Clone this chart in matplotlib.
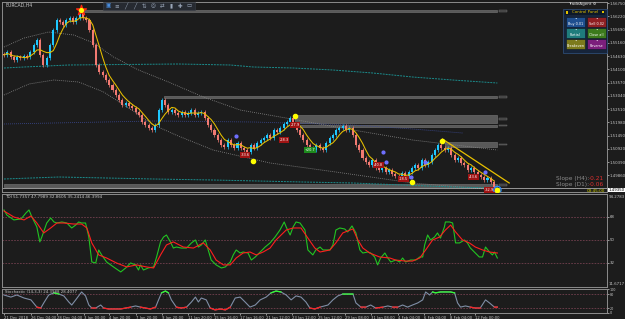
import numpy as np
import pandas as pd
import matplotlib.pyplot as plt
from matplotlib.patches import Rectangle

plt.rcParams.update({
    "font.family": "DejaVu Sans",
    "font.size": 4,
    "figure.facecolor": "#1c1c1c",
    "axes.facecolor": "#1c1c1c",
})

BG = "#1c1c1c"
EDGE = "#8c8c8c"
TXT = "#c8c8c8"
BULL = "#1ec8ff"
BEAR = "#f27a72"
MA_COL = "#e8c000"

# ---------- data ----------
closes = [
    1.5467, 1.5479, 1.5459, 1.5447, 1.5459, 1.5455, 1.5463, 1.5459, 1.5479, 1.5507,
    1.5527, 1.5467, 1.5427, 1.5455, 1.5507, 1.5567, 1.5607, 1.5599, 1.5587, 1.5607,
    1.5615, 1.5599, 1.5615, 1.5639, 1.5615, 1.5607, 1.5567, 1.5507, 1.5427, 1.5399,
    1.5387, 1.5367, 1.5347, 1.5327, 1.5307, 1.5287, 1.5267, 1.5275, 1.5263, 1.5255,
    1.5239, 1.5227, 1.5199, 1.5187, 1.5175, 1.5167, 1.5187, 1.5247, 1.5287, 1.5267,
    1.5239, 1.5247, 1.5235, 1.5227, 1.5239, 1.5227, 1.5235, 1.5247, 1.5227, 1.5235,
    1.5239, 1.5215, 1.5187, 1.5167, 1.5147, 1.5127, 1.5107, 1.5099, 1.5127, 1.5107,
    1.5095, 1.5115, 1.5095, 1.5087, 1.5079, 1.5107, 1.5095, 1.5115, 1.5127, 1.5135,
    1.5147, 1.5135, 1.5167, 1.5159, 1.5175, 1.5191, 1.5199, 1.5215, 1.5187, 1.5167,
    1.5147, 1.5127, 1.5107, 1.5095, 1.5087, 1.5107, 1.5095, 1.5087, 1.5115, 1.5135,
    1.5147, 1.5167, 1.5175, 1.5183, 1.5167, 1.5175, 1.5147, 1.5107, 1.5087, 1.5055,
    1.5039, 1.5027, 1.5047, 1.5015, 1.5007, 1.5015, 1.4999, 1.5007, 1.4991, 1.4983,
    1.4975, 1.4995, 1.4983, 1.4999, 1.5015, 1.5027, 1.5015, 1.5047, 1.5027, 1.5039,
    1.5067, 1.5087, 1.5107, 1.5095, 1.5087, 1.5095, 1.5067, 1.5047, 1.5055, 1.5035,
    1.5027, 1.5007, 1.5015, 1.4999, 1.4987, 1.4979, 1.4967, 1.4975, 1.4959, 1.4935,
]

price_ticks = [1.56750, 1.56220, 1.55690, 1.55160, 1.54630, 1.54100, 1.53570,
               1.53040, 1.52510, 1.51980, 1.51450, 1.50920, 1.50390, 1.49860]

# channel / envelope lines (bar, price)
upper_x = [0, 6.1, 13.6, 21.2, 27.3, 33.3, 40.9, 50, 60.6, 71.8, 90.9, 106.1, 124.2, 150]
upper_y = [1.5499, 1.5535, 1.5559, 1.5547, 1.5515, 1.5459, 1.5407, 1.5359, 1.5299,
           1.5247, 1.5203, 1.5167, 1.5127, 1.5087]
lower_x = [0, 7.6, 15.2, 22.7, 30.3, 37.9, 45.5, 53, 63.6, 80.9, 100.9, 124.2, 150]
lower_y = [1.5307, 1.5351, 1.5367, 1.5359, 1.5319, 1.5255, 1.5187, 1.5143, 1.5087,
           1.5035, 1.4999, 1.4955, 1.4927]
teal_hi_x = [0, 6.1, 19.7, 53, 68.8, 75.8, 87.9, 100, 112.1, 124.2, 136.4, 150]
teal_hi_y = [1.5415, 1.5419, 1.5427, 1.5431, 1.5427, 1.5419, 1.5415, 1.5407, 1.5395,
             1.5379, 1.5367, 1.5355]
teal_lo_x = [0, 16.7, 45.5, 63.6, 90.9, 106.1, 121.2, 136.4, 150]
teal_lo_y = [1.4971, 1.4979, 1.4971, 1.4967, 1.4959, 1.4955, 1.4947, 1.4939, 1.4935]
navy_x = [0, 45.5, 75.8, 106.1, 124.2, 139.4]
navy_y = [1.5191, 1.5203, 1.5199, 1.5187, 1.5171, 1.5155]

# supply / demand zones: (start bar, low, high)
zones = [(24.2, 1.5638, 1.5648), (48.5, 1.5296, 1.5304), (88.5, 1.5197, 1.5227),
         (88.5, 1.5181, 1.5188), (134.2, 1.5101, 1.5119), (0.0, 1.4940, 1.4952)]

swing_x = [75.8, 88.5, 124.0, 133.3, 150.0]
swing_y = [1.5043, 1.5223, 1.4959, 1.5123, 1.4927]
peak_x, peak_y = 23.3, 1.5647
fractal_x = [70.6, 115.2, 116.1, 123.6, 127.9, 146.1]
fractal_y = [1.5143, 1.5079, 1.5039, 1.4979, 1.5039, 1.4999]

tag_x = [73.3, 85.2, 88.5, 93.0, 113.9, 121.5, 142.7, 147.6]
tag_y = [1.5067, 1.5127, 1.5187, 1.5087, 1.5027, 1.4971, 1.4979, 1.4927]
tag_text = ["-33.6", "-28.3", "-27.9", "+20.7", "-40.8", "-18.5", "-43.6", "-32.9"]
tag_col = ["#a01414", "#a01414", "#a01414", "#1d8a1d", "#a01414", "#a01414", "#a01414", "#a01414"]

trend_x = [133.3, 153.6]
trend_y = [1.5131, 1.4955]

# TDI pane
tdi_x = [0, 0.9, 3.0, 5.2, 6.7, 7.6, 8.5, 10.0, 10.9, 11.5, 13.0, 14.2, 15.2, 16.1, 17.6,
         19.1, 20.6, 21.8, 22.7, 23.6, 24.8, 25.8, 26.7, 27.9, 28.8, 29.7, 31.2, 33.3,
         35.5, 37.0, 38.5, 40.0, 40.9, 41.5, 42.4, 43.9, 45.5, 46.4, 47.6, 48.5, 49.4,
         50.6, 51.5, 52.4, 53.9, 55.5, 57.0, 58.2, 59.1, 60.0, 61.2, 62.1, 63.0, 64.5,
         66.1, 67.3, 68.8, 69.7, 70.6, 71.8, 72.7, 74.2, 75.2, 76.4, 77.9, 79.4, 80.9,
         82.4, 83.9, 85.2, 85.8, 87.0, 87.9, 88.8, 90.0, 91.5, 92.4, 93.9, 94.8, 96.1,
         97.0, 99.1, 100.0, 100.9, 102.1, 103.6, 104.5, 105.8, 107.0, 108.2, 109.1,
         110.6, 111.5, 112.7, 113.6, 114.5, 115.8, 116.7, 117.6, 119.1, 120.3, 121.2,
         122.1, 123.6, 125.2, 126.4, 127.3, 127.9, 128.8, 129.7, 130.9, 131.8, 132.7,
         133.9, 134.2, 135.5, 136.4, 137.3, 138.5, 140.0, 140.9, 141.8, 143.3, 144.5,
         145.5, 146.4, 147.6, 148.5, 149.1, 150.0]
tdi_rsi = [73.5, 69.5, 65.7, 66.5, 71.2, 73.5, 68.0, 60.2, 48.5, 52.3, 63.3, 67.2, 64.1,
           63.3, 64.1, 63.3, 59.4, 61.7, 64.1, 63.3, 63.3, 52.3, 32.8, 32.0, 42.2, 38.3,
           32.8, 28.9, 25.0, 28.1, 32.0, 30.5, 26.5, 30.5, 26.5, 28.1, 28.9, 36.7, 48.5,
           52.3, 53.9, 48.5, 43.7, 44.5, 43.7, 43.7, 47.7, 50.0, 44.5, 46.1, 50.0, 42.2,
           34.3, 30.5, 28.1, 28.9, 32.8, 38.3, 42.2, 39.8, 40.6, 39.8, 34.3, 36.7, 40.6,
           44.5, 47.7, 52.3, 57.8, 64.1, 60.2, 53.9, 60.2, 64.1, 63.3, 57.8, 42.2, 38.3,
           42.2, 44.5, 42.2, 42.2, 46.1, 57.8, 59.4, 58.6, 56.3, 61.0, 55.5, 42.2, 39.8,
           40.6, 39.8, 36.7, 30.5, 35.9, 39.8, 35.9, 32.8, 34.3, 32.8, 35.9, 32.8, 34.3,
           34.3, 36.7, 36.7, 46.1, 53.9, 50.0, 52.3, 55.5, 51.5, 60.2, 64.1, 64.1, 63.3,
           47.7, 47.7, 50.0, 47.7, 43.7, 39.8, 36.7, 36.7, 44.5, 40.6, 38.3, 40.6, 35.9]
sig_x = [0, 3.0, 6.1, 8.2, 10.0, 12.1, 14.2, 16.1, 18.2, 21.2, 23.6, 25.2, 26.7, 28.8,
         31.2, 34.2, 37.3, 40.3, 43.3, 45.5, 47.6, 49.4, 51.5, 54.5, 57.6, 60.6, 62.7,
         64.5, 66.7, 68.8, 70.6, 72.7, 74.8, 76.7, 78.8, 80.9, 82.7, 85.8, 87.9, 90.3,
         92.4, 94.5, 96.1, 99.1, 100.9, 103.0, 105.2, 106.1, 107.6, 109.1, 111.2, 114.2,
         117.3, 119.1, 122.1, 124.2, 126.4, 128.2, 130.3, 132.4, 134.2, 135.8, 137.3,
         139.4, 141.5, 143.3, 145.5, 147.6, 150.0]
tdi_sig = [72.7, 68.0, 65.7, 68.8, 63.3, 55.5, 59.4, 63.3, 63.3, 62.5, 62.5, 59.4, 47.7,
           38.3, 35.9, 32.0, 28.9, 30.5, 28.9, 28.1, 38.3, 46.1, 48.5, 44.5, 43.7, 47.7,
           42.2, 34.3, 30.5, 30.5, 35.9, 39.8, 40.6, 38.3, 40.6, 43.7, 50.0, 57.8, 59.4,
           59.4, 51.5, 43.7, 40.6, 42.2, 47.7, 55.5, 57.8, 58.6, 50.0, 43.7, 39.8, 36.7,
           35.9, 34.3, 33.5, 33.5, 35.9, 42.2, 50.0, 52.3, 57.8, 61.7, 56.3, 50.0, 47.7,
           44.5, 42.2, 40.6, 39.8]
tdi_levels = [68, 50, 32]

# Stochastic pane
sto_x = [0, 2.1, 3.9, 6.1, 8.2, 10.0, 11.2, 12.1, 13.6, 15.2, 16.7, 18.2, 19.7, 20.6,
         21.8, 22.7, 23.6, 24.8, 25.8, 26.7, 27.9, 29.4, 30.3, 31.8, 33.3, 35.5, 37.0,
         38.5, 40.0, 41.5, 43.0, 44.5, 46.1, 47.0, 47.9, 49.1, 50.0, 50.9, 52.4, 53.9,
         55.5, 57.0, 58.2, 59.1, 60.0, 61.5, 62.7, 64.2, 65.8, 67.3, 68.8, 70.3, 71.8,
         73.3, 74.8, 76.4, 77.9, 79.7, 81.2, 82.7, 84.2, 85.8, 87.3, 88.8, 90.3, 91.8,
         93.0, 94.5, 96.1, 98.5, 100.0, 101.5, 103.0, 104.5, 106.1, 107.0, 108.5, 110.0,
         111.5, 113.0, 115.2, 116.7, 118.2, 119.7, 121.2, 122.7, 124.2, 125.8, 127.3,
         128.2, 129.4, 130.3, 131.2, 132.7, 134.2, 135.8, 137.0, 137.9, 138.8, 140.3,
         141.8, 143.3, 144.8, 146.4, 147.6, 149.1, 150.0]
sto_k = [76, 67, 76, 63, 55, 24, 20, 42, 76, 85, 80, 72, 46, 33, 55, 72, 89, 72, 33, 20,
         20, 33, 20, 16, 16, 16, 20, 24, 29, 24, 20, 16, 24, 55, 85, 93, 85, 55, 24, 20,
         24, 46, 67, 46, 63, 55, 20, 12, 16, 12, 24, 63, 67, 46, 24, 33, 55, 67, 85, 93,
         89, 76, 55, 72, 67, 46, 20, 16, 24, 33, 55, 72, 80, 80, 80, 42, 24, 24, 33, 20,
         24, 29, 24, 24, 33, 24, 33, 42, 55, 89, 76, 89, 85, 89, 89, 89, 85, 42, 24, 29,
         24, 20, 20, 55, 42, 24, 24]
sto_levels = [80, 20]

date_pos = [0, 8.2, 16.1, 24.2, 31.8, 40, 47.9, 56.1, 63.9, 71.8, 79.7, 87.6, 95.5,
            103.6, 111.5, 119.7, 127.6, 135.5, 143.3]
date_lbl = ["21 Dec 2018", "26 Dec 04:00", "28 Dec 04:00", "3 Jan 00:00", "4 Jan 20:00",
            "7 Jan 20:00", "9 Jan 20:00", "11 Jan 20:00", "15 Jan 16:00", "17 Jan 16:00",
            "21 Jan 12:00", "23 Jan 12:00", "25 Jan 12:00", "29 Jan 08:00", "31 Jan 08:00",
            "4 Feb 04:00", "6 Feb 04:00", "8 Feb 04:00", "12 Feb 00:00"]

# ---------- figure ----------
W, H = 625, 319
fig = plt.figure(figsize=(W / 100, H / 100), dpi=100)


def pane(top, bottom):
    return fig.add_axes([2 / W, 1 - bottom / H, 605 / W, (bottom - top) / H])


ax = pane(2, 192)
ax_rsi = pane(194, 287)
ax_sto = pane(289, 313)
XMAX = 605 / 3.3

for a in (ax, ax_rsi, ax_sto):
    a.set_facecolor(BG)
    a.set_xlim(-0.6, XMAX)
    for s in a.spines.values():
        s.set_color(EDGE)
        s.set_linewidth(0.7)
    a.yaxis.tick_right()
    a.tick_params(axis="y", direction="out", length=1.5, width=0.5, pad=0.6,
                  labelsize=2.8, colors=TXT)
    a.tick_params(axis="x", bottom=False, labelbottom=False)

# ---- price pane ----
c = np.array(closes)
o = np.r_[c[0] + 0.0004, c[:-1]]
x = np.arange(len(c))
col = np.where(c >= o, BULL, BEAR)
ax.vlines(x, np.minimum(o, c) - 0.0007, np.maximum(o, c) + 0.0007, colors=col, lw=0.5, zorder=3)
ax.bar(x, np.maximum(np.abs(c - o), 0.0003), bottom=np.minimum(o, c), width=0.62,
       color=col, lw=0, zorder=3)
ma = pd.Series(c).rolling(5, min_periods=1).mean()
ax.plot(x, ma, color=MA_COL, lw=0.75, zorder=4)

dot = (0, (1, 1.4))
ax.plot(upper_x, upper_y, color="#8a8a8a", lw=0.6, ls=dot, zorder=2)
ax.plot(lower_x, lower_y, color="#8a8a8a", lw=0.6, ls=dot, zorder=2)
ax.plot(teal_hi_x, teal_hi_y, color="#1b8c8c", lw=0.7, ls=(0, (2, 1)), zorder=2)
ax.plot(teal_lo_x, teal_lo_y, color="#1b8c8c", lw=0.7, ls=(0, (2, 1)), zorder=2)
ax.plot(navy_x, navy_y, color="#3c4c9a", lw=0.6, ls=dot, zorder=2)

for x0, lo, hi in zones:
    ax.add_patch(Rectangle((x0, lo), 150 - x0, hi - lo, fc="#595959", ec="#7a7a7a",
                           lw=0.4, zorder=1.5))
    ax.add_patch(Rectangle((150.6, (lo + hi) / 2 - 0.0003), 2.4, 0.0006, fc="#3a3a3a",
                           ec="#7a7a7a", lw=0.3, zorder=1.5))

ax.axhline(c[-1], color="#c8c8c8", lw=0.5, zorder=2)
ax.plot(trend_x, trend_y, color="#e8c000", lw=0.9, zorder=5)

for tx, ty, tt, tc in zip(tag_x, tag_y, tag_text, tag_col):
    ax.text(tx, ty, tt, fontsize=2.5, color="white", ha="center", va="center", zorder=6,
            bbox=dict(fc=tc, ec="none", pad=0.5))

ax.scatter(fractal_x, fractal_y, s=4, color="#7070ff", zorder=6)
ax.scatter([swing_x[-1]], [swing_y[-1]], s=28, facecolor="none", edgecolor="#2a8cff", lw=0.9, zorder=6)
ax.scatter(swing_x, swing_y, s=9, color="#ffff00", zorder=7)
ax.scatter([peak_x], [peak_y], s=55, marker="*", color="#ff2a10", zorder=7)
ax.scatter([peak_x], [peak_y], s=7, color="#ffff00", zorder=8)

ax.set_ylim(1.4919, 1.5679)
ax.set_yticks(price_ticks)
ax.set_yticklabels([f"{v:.5f}" for v in price_ticks])
ax.text(0.005, 0.995, "EURCAD,H4", transform=ax.transAxes, fontsize=3.3, color=TXT,
        va="top", ha="left")

# ---- TDI pane ----
for lv in tdi_levels:
    ax_rsi.axhline(lv, color="#73404f", lw=0.6, ls=(0, (2, 1.5)))
ax_rsi.plot(tdi_x, tdi_rsi, color="#22c422", lw=0.8)
ax_rsi.plot(sig_x, tdi_sig, color="#ff1e1e", lw=0.8)
ax_rsi.set_ylim(13.2, 86.0)
ax_rsi.set_yticks(tdi_levels)
ax_rsi.set_yticklabels([str(v) for v in tdi_levels])
ax_rsi.text(0.005, 0.985, "TDI 51.7357 47.7989 32.8605 35.2414 46.3994",
            transform=ax_rsi.transAxes, fontsize=3.0, color=TXT, va="top")
ax_rsi.text(1.003, 0.985, "94.2783", transform=ax_rsi.transAxes, fontsize=2.8, color=TXT, va="top")
ax_rsi.text(1.003, 0.015, "11.6717", transform=ax_rsi.transAxes, fontsize=2.8, color=TXT, va="bottom")

# ---- Stochastic pane ----
k = np.array(sto_k, dtype=float)
for lv in sto_levels:
    ax_sto.axhline(lv, color="#73404f", lw=0.6, ls=(0, (2, 1.5)))
ax_sto.plot(sto_x, k, color="#7f8ea6", lw=0.8)
ax_sto.plot(sto_x, np.ma.masked_where(k < 78, k), color="#30ff30", lw=0.9)
ax_sto.plot(sto_x, np.ma.masked_where(k > 25, k), color="#ff2020", lw=0.9)
ax_sto.set_ylim(-1.3, 101.7)
ax_sto.set_yticks([100, 80, 20, 0])
ax_sto.set_yticklabels(["100", "80", "20", "0"])
ax_sto.tick_params(axis="y", labelsize=2.4)
ax_sto.text(0.005, 0.96, "Stochastic (14,3,3) 24.3988 28.4077",
            transform=ax_sto.transAxes, fontsize=2.8, color=TXT, va="top")
ax_sto.set_xticks(date_pos)
ax_sto.set_xticklabels(date_lbl, ha="left")
ax_sto.tick_params(axis="x", bottom=True, labelbottom=True, direction="out", length=1.5,
                   width=0.5, pad=0.8, labelsize=2.7, colors=TXT)

# ---- overlay: terminal widgets, drawn in pixel coordinates ----
ov = fig.add_axes([0, 0, 1, 1], zorder=10)
ov.set_xlim(0, W)
ov.set_ylim(H, 0)
ov.axis("off")
ov.patch.set_alpha(0)

# current price tag + candle timer
ov.text(608.5, 190, f"{c[-1]:.5f}", fontsize=2.8, color="black", va="center",
        bbox=dict(fc="white", ec="none", pad=0.3))
ov.text(605, 190.5, "03:45:00", fontsize=3.0, color="#d8d800", ha="right", va="center")

# chart toolbar
ov.add_patch(Rectangle((103, 2), 92, 8, fc="#262a31", ec="#3a3f48", lw=0.4))
icons = ["\u25a3", "\u2261", "\u2571", "\u2571", "\u21c5", "\u25ce", "\u21c4", "\u25ae", "\u271a", "\u25ad"]
for i, g in enumerate(icons):
    ov.text(108 + i * 9, 6, g, fontsize=4, color="#4a8fe0" if i == 0 else "#9aa6b8",
            ha="center", va="center")

# control panel
ov.text(582, 3.5, "TradeAgent \u2699", fontsize=3.0, color="#e0e0e0", ha="center", va="center")
ov.add_patch(Rectangle((563, 9), 44, 44, fc="#16243a", ec="#2d4a72", lw=0.6))
ov.add_patch(Rectangle((565, 10), 40, 4.5, fc="#0d1828", ec="none"))
ov.text(585, 12.3, "Control Panel", fontsize=2.8, color="#e0c000", ha="center", va="center")
ov.add_patch(Rectangle((566, 10.8), 2, 3, fc="#e0c000", ec="none"))
ov.add_patch(Rectangle((602, 11.3), 1.6, 2, fc="#e0c000", ec="none"))
buttons = [("Buy 0.01", "#1f4f8f", 566, 17), ("Sell 0.02", "#8f1f22", 587, 17),
           ("Partial", "#1f7c7c", 566, 28), ("Close all", "#3c7a1c", 587, 28),
           ("Breakeven", "#7c7a1c", 566, 39), ("Reverse", "#7c1f7c", 587, 39)]
for lbl, fc, bx, by in buttons:
    ov.add_patch(Rectangle((bx, by), 19, 10, fc=fc, ec="#0d1828", lw=0.4))
    ov.text(bx + 9.5, by + 3, "\u2022", fontsize=3, color="white", ha="center", va="center")
    ov.text(bx + 9.5, by + 7, lbl, fontsize=2.4, color="white", ha="center", va="center")

# slope readout
ov.text(589, 178.5, "Slope (H4):", fontsize=4.2, color="#8a8a8a", ha="right", va="center")
ov.text(604, 178.5, "-0.21", fontsize=4.2, color="#e03030", ha="right", va="center")
ov.text(589, 184.5, "Slope (D1):", fontsize=4.2, color="#8a8a8a", ha="right", va="center")
ov.text(604, 184.5, "-0.06", fontsize=4.2, color="#e03030", ha="right", va="center")

fig.savefig("out.png", dpi=100, facecolor=BG)
